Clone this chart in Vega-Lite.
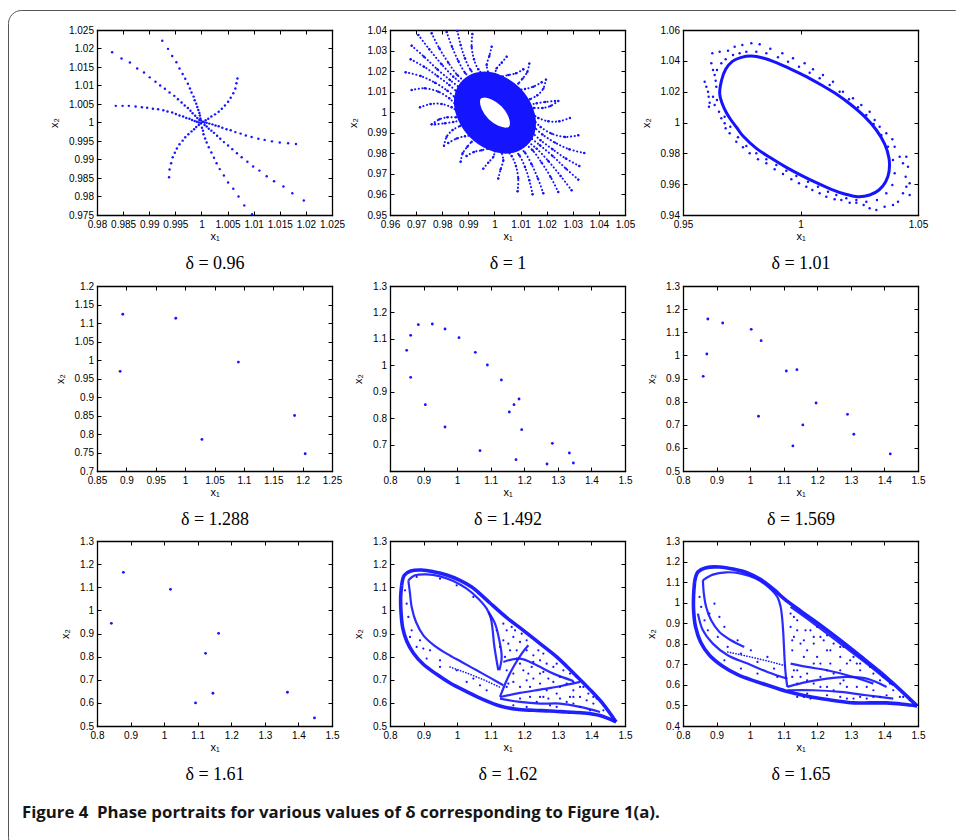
{
"$schema": "https://vega.github.io/schema/vega-lite/v6.json",
"width": 960, "height": 840,
"autosize": {"type": "none"},
"padding": {"left": 8, "top": 10, "right": -12, "bottom": -10},
"background": "white",
"title": {"text": "Figure 4\u00a0 Phase portraits for various values of δ corresponding to Figure 1(a).", "orient": "bottom", "anchor": "start", "frame": "group", "offset": -32, "dx": 14, "font": "Open Sans", "fontSize": 16.8, "fontWeight": "bold", "color": "#151515", "baseline": "alphabetic"},
"config": {
  "view": {"stroke": "#555555", "strokeWidth": 1, "cornerRadius": 13},
  "axis": {"grid": false, "domainColor": "#000000", "domainWidth": 1.3, "domainCap": "square", "tickColor": "#000000", "tickWidth": 1, "tickSize": -4, "labelFont": "Liberation Sans", "labelFontSize": 10, "labelColor": "#000000", "labelPadding": 7.5, "labelFlush": false, "labelOverlap": false, "labelBound": false, "titleFont": "Liberation Sans", "titleFontSize": 11, "titleFontWeight": "normal", "titleColor": "#000000", "minExtent": 0},
  "axisX": {"titlePadding": 0.5, "labelPadding": 8.5},
  "axisY": {"titlePadding": 9, "minExtent": 0}
},
"datasets": {
"p096": [
{"x1":0.9829,"x2":1.0190},{"x1":0.9847,"x2":1.0173},{"x1":0.9863,"x2":1.0162},{"x1":0.9877,"x2":1.0146},{"x1":0.9890,"x2":1.0135},{"x1":0.9901,"x2":1.0122},{"x1":0.9912,"x2":1.0110},{"x1":0.9921,"x2":1.0100},{"x1":0.9930,"x2":1.0091},{"x1":0.9939,"x2":1.0081},{"x1":0.9948,"x2":1.0072},{"x1":0.9955,"x2":1.0063},{"x1":0.9962,"x2":1.0054},{"x1":0.9968,"x2":1.0046},{"x1":0.9974,"x2":1.0039},{"x1":0.9979,"x2":1.0032},{"x1":0.9983,"x2":1.0025},{"x1":0.9988,"x2":1.0018},{"x1":0.9992,"x2":1.0012},{"x1":0.9996,"x2":1.0007},
{"x1":0.9836,"x2":1.0045},{"x1":0.9849,"x2":1.0045},{"x1":0.9861,"x2":1.0045},{"x1":0.9874,"x2":1.0043},{"x1":0.9886,"x2":1.0041},{"x1":0.9896,"x2":1.0040},{"x1":0.9907,"x2":1.0037},{"x1":0.9917,"x2":1.0036},{"x1":0.9927,"x2":1.0033},{"x1":0.9935,"x2":1.0030},{"x1":0.9944,"x2":1.0027},{"x1":0.9951,"x2":1.0023},{"x1":0.9958,"x2":1.0019},{"x1":0.9965,"x2":1.0016},{"x1":0.9971,"x2":1.0012},{"x1":0.9977,"x2":1.0010},{"x1":0.9982,"x2":1.0007},{"x1":0.9987,"x2":1.0004},{"x1":0.9991,"x2":1.0002},{"x1":0.9995,"x2":1.0000},
{"x1":0.9925,"x2":1.0221},{"x1":0.9936,"x2":1.0199},{"x1":0.9944,"x2":1.0180},{"x1":0.9952,"x2":1.0163},{"x1":0.9958,"x2":1.0146},{"x1":0.9964,"x2":1.0131},{"x1":0.9969,"x2":1.0118},{"x1":0.9974,"x2":1.0105},{"x1":0.9978,"x2":1.0092},{"x1":0.9981,"x2":1.0081},{"x1":0.9985,"x2":1.0070},{"x1":0.9987,"x2":1.0060},{"x1":0.9990,"x2":1.0051},{"x1":0.9992,"x2":1.0042},{"x1":0.9994,"x2":1.0034},{"x1":0.9996,"x2":1.0026},{"x1":0.9997,"x2":1.0019},{"x1":0.9998,"x2":1.0011},{"x1":0.9999,"x2":1.0006},
{"x1":1.0069,"x2":1.0119},{"x1":1.0067,"x2":1.0106},{"x1":1.0065,"x2":1.0092},{"x1":1.0061,"x2":1.0079},{"x1":1.0056,"x2":1.0067},{"x1":1.0051,"x2":1.0056},{"x1":1.0045,"x2":1.0046},{"x1":1.0039,"x2":1.0037},{"x1":1.0033,"x2":1.0029},{"x1":1.0026,"x2":1.0022},{"x1":1.0019,"x2":1.0016},{"x1":1.0013,"x2":1.0010},{"x1":1.0008,"x2":1.0006},{"x1":1.0003,"x2":1.0002},
{"x1":1.0181,"x2":0.9942},{"x1":1.0166,"x2":0.9944},{"x1":1.0150,"x2":0.9946},{"x1":1.0135,"x2":0.9949},{"x1":1.0121,"x2":0.9953},{"x1":1.0109,"x2":0.9956},{"x1":1.0096,"x2":0.9961},{"x1":1.0085,"x2":0.9965},{"x1":1.0075,"x2":0.9970},{"x1":1.0065,"x2":0.9974},{"x1":1.0056,"x2":0.9979},{"x1":1.0048,"x2":0.9982},{"x1":1.0040,"x2":0.9986},{"x1":1.0033,"x2":0.9990},{"x1":1.0027,"x2":0.9992},{"x1":1.0021,"x2":0.9995},{"x1":1.0015,"x2":0.9997},{"x1":1.0010,"x2":0.9999},{"x1":1.0006,"x2":1.0000},
{"x1":1.0196,"x2":0.9789},{"x1":1.0174,"x2":0.9809},{"x1":1.0157,"x2":0.9827},{"x1":1.0139,"x2":0.9841},{"x1":1.0125,"x2":0.9855},{"x1":1.0111,"x2":0.9870},{"x1":1.0099,"x2":0.9881},{"x1":1.0088,"x2":0.9894},{"x1":1.0077,"x2":0.9906},{"x1":1.0068,"x2":0.9917},{"x1":1.0059,"x2":0.9928},{"x1":1.0051,"x2":0.9938},{"x1":1.0043,"x2":0.9947},{"x1":1.0036,"x2":0.9956},{"x1":1.0030,"x2":0.9964},{"x1":1.0024,"x2":0.9972},{"x1":1.0019,"x2":0.9978},{"x1":1.0014,"x2":0.9983},{"x1":1.0010,"x2":0.9989},{"x1":1.0006,"x2":0.9993},
{"x1":1.0097,"x2":0.9752},{"x1":1.0082,"x2":0.9776},{"x1":1.0071,"x2":0.9800},{"x1":1.0061,"x2":0.9821},{"x1":1.0051,"x2":0.9838},{"x1":1.0043,"x2":0.9857},{"x1":1.0035,"x2":0.9874},{"x1":1.0029,"x2":0.9890},{"x1":1.0024,"x2":0.9905},{"x1":1.0019,"x2":0.9919},{"x1":1.0014,"x2":0.9933},{"x1":1.0010,"x2":0.9946},{"x1":1.0007,"x2":0.9957},{"x1":1.0004,"x2":0.9968},{"x1":1.0003,"x2":0.9978},{"x1":1.0001,"x2":0.9986},
{"x1":0.9938,"x2":0.9852},{"x1":0.9939,"x2":0.9873},{"x1":0.9942,"x2":0.9890},{"x1":0.9945,"x2":0.9906},{"x1":0.9949,"x2":0.9918},{"x1":0.9953,"x2":0.9930},{"x1":0.9958,"x2":0.9941},{"x1":0.9964,"x2":0.9951},{"x1":0.9969,"x2":0.9960},{"x1":0.9975,"x2":0.9968},{"x1":0.9981,"x2":0.9976},{"x1":0.9986,"x2":0.9982},{"x1":0.9990,"x2":0.9988},{"x1":0.9995,"x2":0.9993},{"x1":0.9999,"x2":0.9997},
{"x1":1.0000,"x2":1.0000}
],
"arms100": [
{"arm":"U1","x1":0.97085,"x2":1.03757},{"arm":"U1","x1":0.97506,"x2":1.03060},{"arm":"U1","x1":0.97979,"x2":1.02330},{"arm":"U1","x1":0.98426,"x2":1.01730},{"arm":"U1","x1":0.98745,"x2":1.01406},
{"arm":"U2","x1":0.97596,"x2":1.03838},{"arm":"U2","x1":0.97889,"x2":1.03108},{"arm":"U2","x1":0.98234,"x2":1.02411},{"arm":"U2","x1":0.98579,"x2":1.01811},{"arm":"U2","x1":0.98872,"x2":1.01487},
{"arm":"U3","x1":0.98170,"x2":1.03903},{"arm":"U3","x1":0.98374,"x2":1.03189},{"arm":"U3","x1":0.98617,"x2":1.02492},{"arm":"U3","x1":0.98872,"x2":1.01924},{"arm":"U3","x1":0.99128,"x2":1.01600},
{"arm":"U4","x1":0.98579,"x2":1.03951},{"arm":"U4","x1":0.98706,"x2":1.03270},{"arm":"U4","x1":0.98872,"x2":1.02622},{"arm":"U4","x1":0.99089,"x2":1.02054},{"arm":"U4","x1":0.99319,"x2":1.01730},
{"arm":"U5","x1":0.99153,"x2":1.03805},{"arm":"U5","x1":0.99128,"x2":1.03189},{"arm":"U5","x1":0.99217,"x2":1.02573},{"arm":"U5","x1":0.99383,"x2":1.02087},{"arm":"U5","x1":0.99574,"x2":1.01811},
{"arm":"U6","x1":0.99894,"x2":1.03189},{"arm":"U6","x1":0.99804,"x2":1.02735},{"arm":"U6","x1":0.99702,"x2":1.02297},{"arm":"U6","x1":0.99766,"x2":1.01924},
{"arm":"U7","x1":1.00468,"x2":1.02703},{"arm":"U7","x1":1.00277,"x2":1.02411},{"arm":"U7","x1":1.00085,"x2":1.02135},{"arm":"U7","x1":1.00021,"x2":1.01860},
{"arm":"U8","x1":1.01106,"x2":1.02087},{"arm":"U8","x1":1.00826,"x2":1.01892},{"arm":"U8","x1":1.00532,"x2":1.01811},{"arm":"U8","x1":1.00277,"x2":1.01730},
{"arm":"U9","x1":1.01809,"x2":1.01454},{"arm":"U9","x1":1.01489,"x2":1.01243},{"arm":"U9","x1":1.01170,"x2":1.01130},{"arm":"U9","x1":1.00851,"x2":1.01081},
{"arm":"U10","x1":1.02319,"x2":1.00546},{"arm":"U10","x1":1.01936,"x2":1.00498},{"arm":"U10","x1":1.01617,"x2":1.00433},{"arm":"U10","x1":1.01298,"x2":1.00352},
{"arm":"L1","x1":0.96830,"x2":1.03238},{"arm":"L1","x1":0.97302,"x2":1.02703},{"arm":"L1","x1":0.97813,"x2":1.02087},{"arm":"L1","x1":0.98298,"x2":1.01568},{"arm":"L1","x1":0.98617,"x2":1.01243},
{"arm":"L2","x1":0.96791,"x2":1.02573},{"arm":"L2","x1":0.97302,"x2":1.02216},{"arm":"L2","x1":0.97813,"x2":1.01762},{"arm":"L2","x1":0.98272,"x2":1.01325},{"arm":"L2","x1":0.98553,"x2":1.01000},
{"arm":"L3","x1":0.96600,"x2":1.01941},{"arm":"L3","x1":0.97174,"x2":1.01762},{"arm":"L3","x1":0.97723,"x2":1.01438},{"arm":"L3","x1":0.98196,"x2":1.01049},{"arm":"L3","x1":0.98489,"x2":1.00725},
{"arm":"L4","x1":0.96830,"x2":1.01081},{"arm":"L4","x1":0.97340,"x2":1.01162},{"arm":"L4","x1":0.97851,"x2":1.01000},{"arm":"L4","x1":0.98272,"x2":1.00676},{"arm":"L4","x1":0.98489,"x2":1.00400},
{"arm":"L5","x1":0.97149,"x2":1.00238},{"arm":"L5","x1":0.97557,"x2":1.00400},{"arm":"L5","x1":0.97979,"x2":1.00400},{"arm":"L5","x1":0.98362,"x2":1.00238},{"arm":"L5","x1":0.98553,"x2":1.00076},
{"arm":"L6","x1":0.97596,"x2":0.99411},{"arm":"L6","x1":0.97889,"x2":0.99654},{"arm":"L6","x1":0.98196,"x2":0.99752},{"arm":"L6","x1":0.98528,"x2":0.99752},
{"arm":"L7","x1":0.98068,"x2":0.98373},{"arm":"L7","x1":0.98170,"x2":0.98811},{"arm":"L7","x1":0.98400,"x2":0.99135},{"arm":"L7","x1":0.98681,"x2":0.99330},
{"arm":"L8","x1":0.98706,"x2":0.97595},{"arm":"L8","x1":0.98783,"x2":0.98000},{"arm":"L8","x1":0.98962,"x2":0.98325},{"arm":"L8","x1":0.99128,"x2":0.98568},
{"arm":"U1m","x1":1.02955,"x2":0.96203},{"arm":"U1m","x1":1.02534,"x2":0.96900},{"arm":"U1m","x1":1.02061,"x2":0.97630},{"arm":"U1m","x1":1.01614,"x2":0.98230},{"arm":"U1m","x1":1.01295,"x2":0.98554},
{"arm":"U2m","x1":1.02444,"x2":0.96122},{"arm":"U2m","x1":1.02151,"x2":0.96852},{"arm":"U2m","x1":1.01806,"x2":0.97549},{"arm":"U2m","x1":1.01461,"x2":0.98149},{"arm":"U2m","x1":1.01168,"x2":0.98473},
{"arm":"U3m","x1":1.01870,"x2":0.96057},{"arm":"U3m","x1":1.01666,"x2":0.96771},{"arm":"U3m","x1":1.01423,"x2":0.97468},{"arm":"U3m","x1":1.01168,"x2":0.98036},{"arm":"U3m","x1":1.00912,"x2":0.98360},
{"arm":"U4m","x1":1.01461,"x2":0.96009},{"arm":"U4m","x1":1.01334,"x2":0.96690},{"arm":"U4m","x1":1.01168,"x2":0.97338},{"arm":"U4m","x1":1.00951,"x2":0.97906},{"arm":"U4m","x1":1.00721,"x2":0.98230},
{"arm":"U5m","x1":1.00887,"x2":0.96155},{"arm":"U5m","x1":1.00912,"x2":0.96771},{"arm":"U5m","x1":1.00823,"x2":0.97387},{"arm":"U5m","x1":1.00657,"x2":0.97873},{"arm":"U5m","x1":1.00466,"x2":0.98149},
{"arm":"U6m","x1":1.00146,"x2":0.96771},{"arm":"U6m","x1":1.00236,"x2":0.97225},{"arm":"U6m","x1":1.00338,"x2":0.97663},{"arm":"U6m","x1":1.00274,"x2":0.98036},
{"arm":"U7m","x1":0.99572,"x2":0.97257},{"arm":"U7m","x1":0.99763,"x2":0.97549},{"arm":"U7m","x1":0.99955,"x2":0.97825},{"arm":"U7m","x1":1.00019,"x2":0.98100},
{"arm":"U8m","x1":0.98934,"x2":0.97873},{"arm":"U8m","x1":0.99214,"x2":0.98068},{"arm":"U8m","x1":0.99508,"x2":0.98149},{"arm":"U8m","x1":0.99763,"x2":0.98230},
{"arm":"U9m","x1":0.98231,"x2":0.98506},{"arm":"U9m","x1":0.98551,"x2":0.98717},{"arm":"U9m","x1":0.98870,"x2":0.98830},{"arm":"U9m","x1":0.99189,"x2":0.98879},
{"arm":"U10m","x1":0.97721,"x2":0.99414},{"arm":"U10m","x1":0.98104,"x2":0.99462},{"arm":"U10m","x1":0.98423,"x2":0.99527},{"arm":"U10m","x1":0.98742,"x2":0.99608},
{"arm":"L1m","x1":1.03210,"x2":0.96722},{"arm":"L1m","x1":1.02738,"x2":0.97257},{"arm":"L1m","x1":1.02227,"x2":0.97873},{"arm":"L1m","x1":1.01742,"x2":0.98392},{"arm":"L1m","x1":1.01423,"x2":0.98717},
{"arm":"L2m","x1":1.03249,"x2":0.97387},{"arm":"L2m","x1":1.02738,"x2":0.97744},{"arm":"L2m","x1":1.02227,"x2":0.98198},{"arm":"L2m","x1":1.01768,"x2":0.98635},{"arm":"L2m","x1":1.01487,"x2":0.98960},
{"arm":"L3m","x1":1.03440,"x2":0.98019},{"arm":"L3m","x1":1.02866,"x2":0.98198},{"arm":"L3m","x1":1.02317,"x2":0.98522},{"arm":"L3m","x1":1.01844,"x2":0.98911},{"arm":"L3m","x1":1.01551,"x2":0.99235},
{"arm":"L4m","x1":1.03210,"x2":0.98879},{"arm":"L4m","x1":1.02700,"x2":0.98798},{"arm":"L4m","x1":1.02189,"x2":0.98960},{"arm":"L4m","x1":1.01768,"x2":0.99284},{"arm":"L4m","x1":1.01551,"x2":0.99560},
{"arm":"L5m","x1":1.02891,"x2":0.99722},{"arm":"L5m","x1":1.02483,"x2":0.99560},{"arm":"L5m","x1":1.02061,"x2":0.99560},{"arm":"L5m","x1":1.01678,"x2":0.99722},{"arm":"L5m","x1":1.01487,"x2":0.99884},
{"arm":"L6m","x1":1.02444,"x2":1.00549},{"arm":"L6m","x1":1.02151,"x2":1.00306},{"arm":"L6m","x1":1.01844,"x2":1.00208},{"arm":"L6m","x1":1.01512,"x2":1.00208},
{"arm":"L7m","x1":1.01972,"x2":1.01587},{"arm":"L7m","x1":1.01870,"x2":1.01149},{"arm":"L7m","x1":1.01640,"x2":1.00825},{"arm":"L7m","x1":1.01359,"x2":1.00630},
{"arm":"L8m","x1":1.01334,"x2":1.02365},{"arm":"L8m","x1":1.01257,"x2":1.01960},{"arm":"L8m","x1":1.01078,"x2":1.01635},{"arm":"L8m","x1":1.00912,"x2":1.01392}
],
"core100": [
{"x1":1.0091,"x2":0.9885},{"x1":1.0109,"x2":0.9938},{"x1":1.0098,"x2":1.0007},{"x1":1.0062,"x2":1.0074},{"x1":1.0009,"x2":1.0120},{"x1":0.9955,"x2":1.0134},{"x1":0.9913,"x2":1.0111},{"x1":0.9895,"x2":1.0058},{"x1":0.9906,"x2":0.9989},{"x1":0.9942,"x2":0.9922},{"x1":0.9995,"x2":0.9876},{"x1":1.0049,"x2":0.9862}
],
"cycle101": [
{"x1":0.96560,"x2":1.01892},{"x1":0.96645,"x2":1.02757},{"x1":0.96816,"x2":1.03449},{"x1":0.97099,"x2":1.03968},{"x1":0.97482,"x2":1.04227},{"x1":0.97908,"x2":1.04314},{"x1":0.98404,"x2":1.04184},{"x1":0.98972,"x2":1.03881},{"x1":0.99610,"x2":1.03449},{"x1":1.00248,"x2":1.02973},{"x1":1.00887,"x2":1.02432},{"x1":1.01525,"x2":1.01849},{"x1":1.02163,"x2":1.01135},{"x1":1.02730,"x2":1.00378},{"x1":1.03227,"x2":0.99514},{"x1":1.03582,"x2":0.98605},{"x1":1.03766,"x2":0.97676},{"x1":1.03766,"x2":0.96811},{"x1":1.03624,"x2":0.96162},{"x1":1.03340,"x2":0.95622},{"x1":1.02943,"x2":0.95297},{"x1":1.02447,"x2":0.95189},{"x1":1.01879,"x2":0.95362},{"x1":1.01312,"x2":0.95665},{"x1":1.00674,"x2":0.96097},{"x1":1.00035,"x2":0.96573},{"x1":0.99397,"x2":0.97092},{"x1":0.98759,"x2":0.97676},{"x1":0.98121,"x2":0.98324},{"x1":0.97553,"x2":0.99125},{"x1":0.97298,"x2":0.99643},{"x1":0.97043,"x2":1.00162},{"x1":0.96830,"x2":1.00681},{"x1":0.96660,"x2":1.01265}
],
"halo101": [
{"x1":0.95922,"x2":1.02649},{"x1":0.95993,"x2":1.02324},{"x1":0.96064,"x2":1.02000},{"x1":0.96092,"x2":1.01676},{"x1":0.96135,"x2":1.01286},{"x1":0.96106,"x2":1.01027},{"x1":0.96206,"x2":1.03838},{"x1":0.96277,"x2":1.03405},{"x1":0.96347,"x2":1.03081},{"x1":0.96390,"x2":1.02713},{"x1":0.96447,"x2":1.01459},{"x1":0.96532,"x2":1.00703},{"x1":0.96631,"x2":1.00270},{"x1":0.96773,"x2":0.99946},{"x1":0.96248,"x2":1.04486},{"x1":0.96560,"x2":1.04595},{"x1":0.96915,"x2":1.04659},{"x1":0.97199,"x2":1.04919},{"x1":0.97525,"x2":1.05027},{"x1":0.97908,"x2":1.05135},{"x1":0.98262,"x2":1.05070},{"x1":0.98716,"x2":1.04789},{"x1":0.99227,"x2":1.04486},{"x1":0.99681,"x2":1.04162},{"x1":1.00177,"x2":1.03838},{"x1":1.00532,"x2":1.03449},{"x1":1.00957,"x2":1.03081},{"x1":1.01383,"x2":1.02649},{"x1":1.01808,"x2":1.02000},{"x1":1.02234,"x2":1.01567},{"x1":1.02588,"x2":1.01135},{"x1":1.02943,"x2":1.00703},{"x1":1.03156,"x2":1.00162},{"x1":1.03369,"x2":0.99730},{"x1":1.03652,"x2":0.99297},{"x1":1.03908,"x2":0.98908},{"x1":1.04007,"x2":0.98432},{"x1":1.04220,"x2":0.97784},{"x1":1.04361,"x2":0.97351},{"x1":1.04503,"x2":0.97784},{"x1":1.04574,"x2":0.97135},{"x1":1.04475,"x2":0.96486},{"x1":1.04645,"x2":0.96054},{"x1":1.04503,"x2":0.95838},{"x1":1.04361,"x2":0.95405},{"x1":1.04645,"x2":0.95297},{"x1":1.04149,"x2":0.94865},{"x1":1.03936,"x2":0.94649},{"x1":1.03581,"x2":0.94541},{"x1":1.03227,"x2":0.94324},{"x1":1.02943,"x2":0.94432},{"x1":1.02688,"x2":0.94649},{"x1":1.02376,"x2":0.94800},{"x1":1.02092,"x2":0.94800},{"x1":1.01737,"x2":0.94973},{"x1":1.01454,"x2":0.95016},{"x1":1.01099,"x2":0.95189},{"x1":1.00815,"x2":0.95405},{"x1":1.00503,"x2":0.95622},{"x1":1.00248,"x2":0.95838},{"x1":0.99936,"x2":0.96054},{"x1":0.99610,"x2":0.96313},{"x1":0.99255,"x2":0.96659},{"x1":0.98901,"x2":0.96962},{"x1":0.98546,"x2":0.97351},{"x1":0.98191,"x2":0.97611},{"x1":0.97837,"x2":0.98000},{"x1":0.97553,"x2":0.98389},{"x1":0.97269,"x2":0.98757},{"x1":0.96986,"x2":0.99297},{"x1":0.96816,"x2":0.99622},
{"x1":0.96418,"x2":1.02324},{"x1":0.96447,"x2":1.03405},{"x1":0.96631,"x2":1.03838},{"x1":0.96816,"x2":1.04097},{"x1":0.97128,"x2":1.04378},{"x1":0.97411,"x2":1.04486},{"x1":0.97695,"x2":1.04595},{"x1":0.98120,"x2":1.04595},{"x1":0.98546,"x2":1.04486},{"x1":0.99042,"x2":1.04227},{"x1":0.99468,"x2":1.03946},{"x1":0.99936,"x2":1.03622},{"x1":1.00390,"x2":1.03232},{"x1":1.00815,"x2":1.02865},{"x1":1.01241,"x2":1.02432},{"x1":1.01666,"x2":1.02000},{"x1":1.02064,"x2":1.01503},{"x1":1.02447,"x2":1.00984},{"x1":1.02801,"x2":1.00486},{"x1":1.03113,"x2":0.99903},{"x1":1.03439,"x2":0.99189},{"x1":1.03723,"x2":0.98432},{"x1":1.03936,"x2":0.97567},{"x1":1.04007,"x2":0.96703},{"x1":1.03908,"x2":0.95946},{"x1":1.03652,"x2":0.95405},{"x1":1.03255,"x2":0.94973},{"x1":1.02801,"x2":0.94865},{"x1":1.02376,"x2":0.94973},{"x1":1.01950,"x2":0.95081},{"x1":1.01525,"x2":0.95297},{"x1":1.01170,"x2":0.95513},{"x1":1.00745,"x2":0.95838},{"x1":1.00319,"x2":0.96162},{"x1":0.99823,"x2":0.96530},{"x1":0.99397,"x2":0.96876},{"x1":0.98972,"x2":0.97243},{"x1":0.98546,"x2":0.97611},{"x1":0.98121,"x2":0.98000},{"x1":0.97695,"x2":0.98476},{"x1":0.97340,"x2":0.99038},{"x1":0.97014,"x2":0.99730},{"x1":0.96773,"x2":1.00378},{"x1":0.96347,"x2":1.01135},{"x1":0.96277,"x2":1.01676}
],
"p1288": [
{"x1":0.8939,"x2":1.1237},{"x1":0.9841,"x2":1.1129},{"x1":0.8894,"x2":0.9693},{"x1":1.0906,"x2":0.9944},{"x1":1.0286,"x2":0.7853},{"x1":1.1863,"x2":0.8499},{"x1":1.2044,"x2":0.7467}
],
"p1492": [
{"x1":0.8497,"x2":1.0566},{"x1":0.8616,"x2":1.1134},{"x1":0.8844,"x2":1.1537},{"x1":0.9261,"x2":1.1562},{"x1":0.9639,"x2":1.1373},{"x1":1.0056,"x2":1.1045},{"x1":1.0542,"x2":1.0491},{"x1":1.0900,"x2":1.0011},{"x1":1.1317,"x2":0.9444},{"x1":0.8616,"x2":0.9545},{"x1":0.9053,"x2":0.8511},{"x1":0.9639,"x2":0.7666},{"x1":1.0681,"x2":0.6770},{"x1":1.1754,"x2":0.6430},{"x1":1.1555,"x2":0.8233},{"x1":1.1694,"x2":0.8511},{"x1":1.1843,"x2":0.8725},{"x1":1.1923,"x2":0.7565},{"x1":1.2836,"x2":0.7048},{"x1":1.3343,"x2":0.6682},{"x1":1.3462,"x2":0.6304},{"x1":1.2677,"x2":0.6266}
],
"p1569": [
{"x1":0.8740,"x2":1.1573},{"x1":0.9183,"x2":1.1401},{"x1":1.0032,"x2":1.1127},{"x1":1.0327,"x2":1.0637},{"x1":0.8710,"x2":1.0061},{"x1":0.8602,"x2":0.9095},{"x1":1.1077,"x2":0.9326},{"x1":1.1393,"x2":0.9383},{"x1":1.1964,"x2":0.7942},{"x1":1.0249,"x2":0.7366},{"x1":1.1570,"x2":0.6991},{"x1":1.1274,"x2":0.6084},{"x1":1.2901,"x2":0.7452},{"x1":1.3089,"x2":0.6588},{"x1":1.4174,"x2":0.5738}
],
"p161": [
{"x1":0.8786,"x2":1.1646},{"x1":1.0189,"x2":1.0911},{"x1":0.8428,"x2":0.9441},{"x1":1.1622,"x2":0.9009},{"x1":1.1234,"x2":0.8144},{"x1":1.1453,"x2":0.6415},{"x1":1.0935,"x2":0.5997},{"x1":1.3672,"x2":0.6458},{"x1":1.4478,"x2":0.5349}
],
"loop162": [
{"part":"upper","x1":0.8348,"x2":1.1084},{"part":"upper","x1":0.8427,"x2":1.1516},{"part":"upper","x1":0.8616,"x2":1.1703},{"part":"upper","x1":0.8943,"x2":1.1746},{"part":"upper","x1":0.9291,"x2":1.1674},{"part":"upper","x1":0.9688,"x2":1.1530},{"part":"upper","x1":1.0085,"x2":1.1300},{"part":"upper","x1":1.0433,"x2":1.1012},{"part":"upper","x1":1.0731,"x2":1.0651},{"part":"upper","x1":1.0979,"x2":1.0320},{"part":"upper","x1":1.1476,"x2":0.9686},{"part":"upper","x1":1.1972,"x2":0.9138},{"part":"upper","x1":1.2469,"x2":0.8562},{"part":"upper","x1":1.2965,"x2":0.7986},{"part":"upper","x1":1.3462,"x2":0.7294},{"part":"upper","x1":1.3958,"x2":0.6573},{"part":"upper","x1":1.4356,"x2":0.5939},{"part":"upper","x1":1.4733,"x2":0.5176},
{"part":"lower","x1":1.4733,"x2":0.5176},{"part":"lower","x1":1.4256,"x2":0.5450},{"part":"lower","x1":1.3760,"x2":0.5565},{"part":"lower","x1":1.3263,"x2":0.5608},{"part":"lower","x1":1.2767,"x2":0.5651},{"part":"lower","x1":1.2270,"x2":0.5680},{"part":"lower","x1":1.1774,"x2":0.5723},{"part":"lower","x1":1.1277,"x2":0.5867},{"part":"lower","x1":1.0781,"x2":0.6141},{"part":"lower","x1":1.0284,"x2":0.6487},{"part":"lower","x1":0.9787,"x2":0.6862},{"part":"lower","x1":0.9390,"x2":0.7236},{"part":"lower","x1":0.8993,"x2":0.7669},{"part":"lower","x1":0.8695,"x2":0.8159},{"part":"lower","x1":0.8497,"x2":0.8677},{"part":"lower","x1":0.8377,"x2":0.9254},{"part":"lower","x1":0.8328,"x2":0.9931},{"part":"lower","x1":0.8318,"x2":1.0579},{"part":"lower","x1":0.8348,"x2":1.1084}
],
"bands162": [
{"part":"spineA","x1":0.8546,"x2":1.1300},{"part":"spineA","x1":0.8745,"x2":1.1516},{"part":"spineA","x1":0.9092,"x2":1.1559},{"part":"spineA","x1":0.9490,"x2":1.1473},{"part":"spineA","x1":0.9887,"x2":1.1271},{"part":"spineA","x1":1.0284,"x2":1.0939},{"part":"spineA","x1":1.0632,"x2":1.0507},{"part":"spineA","x1":1.0880,"x2":1.0075},{"part":"spineA","x1":1.0999,"x2":0.9686},{"part":"spineA","x1":1.1059,"x2":0.9138},{"part":"spineA","x1":1.1098,"x2":0.8562},{"part":"spineA","x1":1.1158,"x2":0.7986},{"part":"spineA","x1":1.1227,"x2":0.7409},
{"part":"spineB","x1":1.0929,"x2":0.9931},{"part":"spineB","x1":1.1128,"x2":0.9427},{"part":"spineB","x1":1.1257,"x2":0.8706},{"part":"spineB","x1":1.1327,"x2":0.7986},{"part":"spineB","x1":1.1257,"x2":0.7409},
{"part":"inner","x1":0.8546,"x2":1.1300},{"part":"inner","x1":0.8596,"x2":1.0723},{"part":"inner","x1":0.8645,"x2":1.0147},{"part":"inner","x1":0.8775,"x2":0.9499},{"part":"inner","x1":0.8993,"x2":0.8922},{"part":"inner","x1":0.9311,"x2":0.8490},{"part":"inner","x1":0.9688,"x2":0.8130},{"part":"inner","x1":1.0135,"x2":0.7769},{"part":"inner","x1":1.0582,"x2":0.7409},{"part":"inner","x1":1.1029,"x2":0.7049},{"part":"inner","x1":1.1376,"x2":0.6761},
{"part":"e1","x1":1.1277,"x2":0.6256},{"part":"e1","x1":1.1476,"x2":0.6977},{"part":"e1","x1":1.1674,"x2":0.7553},{"part":"e1","x1":1.1923,"x2":0.8130},{"part":"e1","x1":1.2121,"x2":0.8490},
{"part":"e2","x1":1.1277,"x2":0.6256},{"part":"e2","x1":1.1873,"x2":0.6429},{"part":"e2","x1":1.2469,"x2":0.6573},{"part":"e2","x1":1.3064,"x2":0.6718},{"part":"e2","x1":1.3660,"x2":0.6905},
{"part":"e3","x1":1.1277,"x2":0.6184},{"part":"e3","x1":1.1873,"x2":0.6040},{"part":"e3","x1":1.2469,"x2":0.5968},{"part":"e3","x1":1.3064,"x2":0.5968},{"part":"e3","x1":1.3660,"x2":0.5824},{"part":"e3","x1":1.4256,"x2":0.5608},
{"part":"e4","x1":1.1376,"x2":0.7769},{"part":"e4","x1":1.1873,"x2":0.7914},{"part":"e4","x1":1.2370,"x2":0.7625},{"part":"e4","x1":1.2866,"x2":0.7265},{"part":"e4","x1":1.3462,"x2":0.6948}
],
"thin162": [
{"x1":0.9787,"x2":0.7553},{"x1":1.0284,"x2":0.7294},{"x1":1.0781,"x2":0.7006},{"x1":1.1257,"x2":0.6689}
],
"scat162": [
{"x1":1.1476,"x2":0.9138},{"x1":1.1674,"x2":0.8850},{"x1":1.1873,"x2":0.8634},{"x1":1.1525,"x2":0.8562},{"x1":1.1774,"x2":0.8274},{"x1":1.2071,"x2":0.8274},{"x1":1.2270,"x2":0.8058},{"x1":1.2469,"x2":0.7841},{"x1":1.2667,"x2":0.7697},{"x1":1.2220,"x2":0.7553},{"x1":1.1972,"x2":0.7409},{"x1":1.2469,"x2":0.7265},{"x1":1.2717,"x2":0.7049},{"x1":1.3064,"x2":0.7121},{"x1":1.3263,"x2":0.6833},{"x1":1.2965,"x2":0.6401},{"x1":1.2568,"x2":0.6256},{"x1":1.2171,"x2":0.6256},{"x1":1.1873,"x2":0.6689},{"x1":1.1674,"x2":0.6905},{"x1":1.2469,"x2":0.6833},{"x1":1.3462,"x2":0.6545},{"x1":1.3660,"x2":0.6256},{"x1":1.3859,"x2":0.6112},{"x1":1.3362,"x2":0.6256},{"x1":1.3064,"x2":0.6184},{"x1":1.2767,"x2":0.5896},{"x1":1.2071,"x2":0.5824},{"x1":1.1674,"x2":0.5896},{"x1":1.2469,"x2":0.5680},{"x1":1.2965,"x2":0.5824},{"x1":1.3462,"x2":0.5968},{"x1":1.4058,"x2":0.5968},{"x1":1.3660,"x2":0.6689},{"x1":1.4058,"x2":0.6256},{"x1":1.1476,"x2":0.7409},{"x1":1.1525,"x2":0.6833},{"x1":1.1426,"x2":0.7986},{"x1":1.1178,"x2":0.9138},{"x1":1.1277,"x2":0.8418},{"x1":1.1376,"x2":0.8706},{"x1":1.1625,"x2":0.9282},{"x1":1.1923,"x2":0.8994},{"x1":1.2419,"x2":0.8274},{"x1":1.2866,"x2":0.7553},{"x1":1.3164,"x2":0.7409},{"x1":1.3561,"x2":0.7121},{"x1":1.2270,"x2":0.7049},{"x1":1.1873,"x2":0.7697},{"x1":1.2121,"x2":0.7265},
{"x1":1.1376,"x2":0.9427},{"x1":1.1724,"x2":0.9138},{"x1":1.2071,"x2":0.8706},{"x1":1.2568,"x2":0.8130},{"x1":1.2965,"x2":0.7697},{"x1":1.3362,"x2":0.7265},{"x1":1.3760,"x2":0.6689},{"x1":1.4157,"x2":0.6184},{"x1":1.4356,"x2":0.5680},{"x1":1.3462,"x2":0.6256},{"x1":1.2667,"x2":0.6545},{"x1":1.2071,"x2":0.6977},{"x1":1.1674,"x2":0.7265},{"x1":1.1476,"x2":0.6689},{"x1":1.1873,"x2":0.6184},{"x1":1.2370,"x2":0.6040},{"x1":1.3263,"x2":0.6040},{"x1":1.3660,"x2":0.5824},{"x1":1.3958,"x2":0.5680},{"x1":1.2866,"x2":0.6905},{"x1":1.2568,"x2":0.7337},{"x1":1.2270,"x2":0.7769},{"x1":1.1774,"x2":0.7914},{"x1":1.1575,"x2":0.8274},{"x1":1.3064,"x2":0.6689},{"x1":1.3462,"x2":0.6905},{"x1":1.3909,"x2":0.6401},{"x1":1.2469,"x2":0.6256},{"x1":1.2171,"x2":0.6689},{"x1":1.2717,"x2":0.6184},
{"x1":0.8447,"x2":1.0867},{"x1":0.8497,"x2":1.0291},{"x1":0.8546,"x2":0.9715},{"x1":0.8645,"x2":0.9138},{"x1":0.8894,"x2":0.8706},{"x1":0.9192,"x2":0.8274},{"x1":0.9490,"x2":0.7841},{"x1":0.9986,"x2":0.7409},{"x1":1.0483,"x2":0.7049},{"x1":0.9490,"x2":0.7553},{"x1":0.9092,"x2":0.7914},{"x1":0.8794,"x2":0.8418},{"x1":0.8596,"x2":0.8850},{"x1":0.8993,"x2":0.8346},{"x1":1.0681,"x2":0.6761},{"x1":1.0284,"x2":0.6905},{"x1":1.0880,"x2":0.6545},{"x1":0.8794,"x2":1.1444},{"x1":0.9490,"x2":1.1372},{"x1":0.9986,"x2":1.1084},{"x1":1.0483,"x2":1.0579}
],
"loop165": [
{"part":"upper","x1":0.8345,"x2":1.1006},{"part":"upper","x1":0.8444,"x2":1.1493},{"part":"upper","x1":0.8690,"x2":1.1703},{"part":"upper","x1":0.9085,"x2":1.1736},{"part":"upper","x1":0.9529,"x2":1.1622},{"part":"upper","x1":0.9923,"x2":1.1444},{"part":"upper","x1":1.0318,"x2":1.1120},{"part":"upper","x1":1.0712,"x2":1.0634},{"part":"upper","x1":1.1008,"x2":1.0196},{"part":"upper","x1":1.1501,"x2":0.9596},{"part":"upper","x1":1.2093,"x2":0.8900},{"part":"upper","x1":1.2684,"x2":0.8170},{"part":"upper","x1":1.3276,"x2":0.7408},{"part":"upper","x1":1.3868,"x2":0.6630},{"part":"upper","x1":1.4460,"x2":0.5771},{"part":"upper","x1":1.4972,"x2":0.4977},
{"part":"lower","x1":1.4972,"x2":0.4977},{"part":"lower","x1":1.4558,"x2":0.5058},{"part":"lower","x1":1.4065,"x2":0.5123},{"part":"lower","x1":1.3572,"x2":0.5123},{"part":"lower","x1":1.3079,"x2":0.5123},{"part":"lower","x1":1.2586,"x2":0.5220},{"part":"lower","x1":1.2093,"x2":0.5334},{"part":"lower","x1":1.1600,"x2":0.5480},{"part":"lower","x1":1.1107,"x2":0.5674},{"part":"lower","x1":1.0613,"x2":0.5933},{"part":"lower","x1":1.0120,"x2":0.6193},{"part":"lower","x1":0.9627,"x2":0.6501},{"part":"lower","x1":0.9183,"x2":0.6906},{"part":"lower","x1":0.8789,"x2":0.7441},{"part":"lower","x1":0.8523,"x2":0.8089},{"part":"lower","x1":0.8375,"x2":0.8818},{"part":"lower","x1":0.8316,"x2":0.9629},{"part":"lower","x1":0.8316,"x2":1.0358},{"part":"lower","x1":0.8345,"x2":1.1006}
],
"bands165": [
{"part":"spine","x1":0.8592,"x2":1.1088},{"part":"spine","x1":0.8888,"x2":1.1363},{"part":"spine","x1":0.9282,"x2":1.1477},{"part":"spine","x1":0.9726,"x2":1.1412},{"part":"spine","x1":1.0170,"x2":1.1169},{"part":"spine","x1":1.0564,"x2":1.0731},{"part":"spine","x1":1.0811,"x2":1.0277},{"part":"spine","x1":1.0909,"x2":0.9791},{"part":"spine","x1":1.0959,"x2":0.9143},{"part":"spine","x1":1.0988,"x2":0.8494},{"part":"spine","x1":1.1008,"x2":0.7846},{"part":"spine","x1":1.1028,"x2":0.7198},{"part":"spine","x1":1.1057,"x2":0.6549},{"part":"spine","x1":1.1107,"x2":0.5901},
{"part":"inner","x1":0.8592,"x2":1.1088},{"part":"inner","x1":0.8621,"x2":1.0439},{"part":"inner","x1":0.8690,"x2":0.9791},{"part":"inner","x1":0.8838,"x2":0.9143},{"part":"inner","x1":0.9085,"x2":0.8575},{"part":"inner","x1":0.9430,"x2":0.8170},{"part":"inner","x1":0.9824,"x2":0.7846},
{"part":"low","x1":0.8444,"x2":0.9467},{"part":"low","x1":0.8592,"x2":0.8656},{"part":"low","x1":0.8888,"x2":0.8008},{"part":"low","x1":0.9331,"x2":0.7441},{"part":"low","x1":0.9923,"x2":0.7036},{"part":"low","x1":1.0515,"x2":0.6630},{"part":"low","x1":1.1107,"x2":0.6306},
{"part":"t1","x1":1.1107,"x2":0.5901},{"part":"t1","x1":1.1698,"x2":0.6144},{"part":"t1","x1":1.2290,"x2":0.6306},{"part":"t1","x1":1.2882,"x2":0.6387},{"part":"t1","x1":1.3473,"x2":0.6306},{"part":"t1","x1":1.4065,"x2":0.5901},
{"part":"t2","x1":1.1107,"x2":0.5739},{"part":"t2","x1":1.1895,"x2":0.5739},{"part":"t2","x1":1.2684,"x2":0.5658},{"part":"t2","x1":1.3473,"x2":0.5496},{"part":"t2","x1":1.4262,"x2":0.5334},
{"part":"t3","x1":1.1205,"x2":0.7036},{"part":"t3","x1":1.1698,"x2":0.6874},{"part":"t3","x1":1.2290,"x2":0.6711},{"part":"t3","x1":1.3079,"x2":0.6387},{"part":"t3","x1":1.3671,"x2":0.6063},
{"part":"edge","x1":1.1205,"x2":0.9791},{"part":"edge","x1":1.1895,"x2":0.8981},{"part":"edge","x1":1.2684,"x2":0.8008},{"part":"edge","x1":1.3473,"x2":0.7036},{"part":"edge","x1":1.4262,"x2":0.5982}
],
"thin165": [
{"x1":0.9331,"x2":0.7603},{"x1":0.9923,"x2":0.7392},{"x1":1.0515,"x2":0.7165},{"x1":1.1107,"x2":0.6906}
],
"scat165": [
{"x1":1.1304,"x2":0.9305},{"x1":1.1402,"x2":0.8656},{"x1":1.1501,"x2":0.8008},{"x1":1.1254,"x2":0.7684},{"x1":1.1600,"x2":0.7360},{"x1":1.1797,"x2":0.8656},{"x1":1.1895,"x2":0.8008},{"x1":1.2093,"x2":0.8332},{"x1":1.1994,"x2":0.7360},{"x1":1.2290,"x2":0.7684},{"x1":1.2487,"x2":0.8008},{"x1":1.2684,"x2":0.7360},{"x1":1.2389,"x2":0.7036},{"x1":1.2882,"x2":0.7036},{"x1":1.3079,"x2":0.7360},{"x1":1.3276,"x2":0.6711},{"x1":1.3572,"x2":0.6874},{"x1":1.3868,"x2":0.6225},{"x1":1.4164,"x2":0.6063},{"x1":1.3671,"x2":0.5739},{"x1":1.3178,"x2":0.5901},{"x1":1.2684,"x2":0.6063},{"x1":1.2290,"x2":0.5901},{"x1":1.1895,"x2":0.6063},{"x1":1.1501,"x2":0.6387},{"x1":1.1304,"x2":0.6711},{"x1":1.1698,"x2":0.6549},{"x1":1.2093,"x2":0.6387},{"x1":1.2882,"x2":0.5901},{"x1":1.3276,"x2":0.5415},{"x1":1.2684,"x2":0.5415},{"x1":1.2290,"x2":0.5496},{"x1":1.3671,"x2":0.5415},{"x1":1.4065,"x2":0.5496},{"x1":1.4460,"x2":0.5415},{"x1":1.1402,"x2":0.5415},{"x1":1.1797,"x2":0.5334},{"x1":1.3079,"x2":0.5334},{"x1":1.2487,"x2":0.6549},{"x1":1.2093,"x2":0.7036},{"x1":1.1698,"x2":0.7684},{"x1":1.1304,"x2":0.8332},{"x1":1.1205,"x2":0.8818},{"x1":1.1994,"x2":0.8818},{"x1":1.2290,"x2":0.8413},{"x1":1.2783,"x2":0.7846},{"x1":1.3178,"x2":0.7036},{"x1":1.1698,"x2":0.5577},
{"x1":1.1205,"x2":0.9467},{"x1":1.1402,"x2":0.9143},{"x1":1.1649,"x2":0.8656},{"x1":1.1895,"x2":0.8332},{"x1":1.2191,"x2":0.8170},{"x1":1.2389,"x2":0.7684},{"x1":1.2684,"x2":0.7846},{"x1":1.2980,"x2":0.7198},{"x1":1.3276,"x2":0.7036},{"x1":1.3671,"x2":0.6549},{"x1":1.3966,"x2":0.6387},{"x1":1.4262,"x2":0.5739},{"x1":1.4558,"x2":0.5415},{"x1":1.4755,"x2":0.5253},{"x1":1.3473,"x2":0.5901},{"x1":1.2783,"x2":0.6225},{"x1":1.2487,"x2":0.5739},{"x1":1.2093,"x2":0.5901},{"x1":1.1698,"x2":0.6225},{"x1":1.1402,"x2":0.6711},{"x1":1.1402,"x2":0.6063},{"x1":1.1895,"x2":0.7036},{"x1":1.2290,"x2":0.6711},{"x1":1.2684,"x2":0.6711},{"x1":1.3079,"x2":0.6387},{"x1":1.2882,"x2":0.5334},{"x1":1.3473,"x2":0.5334},{"x1":1.3868,"x2":0.5415},{"x1":1.1600,"x2":0.8170},{"x1":1.1254,"x2":0.8170},{"x1":1.1254,"x2":0.6387},{"x1":1.1600,"x2":0.5415},
{"x1":0.8493,"x2":1.0277},{"x1":0.8542,"x2":0.9791},{"x1":0.8641,"x2":0.9143},{"x1":0.8740,"x2":0.8656},{"x1":0.8789,"x2":0.9467},{"x1":0.9036,"x2":0.8332},{"x1":0.9331,"x2":0.7846},{"x1":0.9726,"x2":0.7522},{"x1":1.0219,"x2":0.7117},{"x1":1.0712,"x2":0.6793},{"x1":0.8937,"x2":0.9953},{"x1":0.9085,"x2":0.9305},{"x1":0.9233,"x2":0.8818},{"x1":0.9627,"x2":0.8170},{"x1":1.0022,"x2":0.7684},{"x1":1.0515,"x2":0.7360},{"x1":1.0811,"x2":0.6387},{"x1":1.0219,"x2":0.6549},{"x1":0.9726,"x2":0.6793},{"x1":0.9233,"x2":0.7198}
]
},
"layer": [
{
 "layer": [
  {"data": {"name": "p096"}, "mark": {"type": "circle", "size": 6, "color": "#1414ff", "opacity": 1},
   "encoding": {
    "x": {"field": "x1", "type": "quantitative", "scale": {"domain": [0.98, 1.025], "range": [89, 324], "zero": false, "nice": false}, "axis": {"orient": "bottom", "offset": -635, "values": [0.98, 0.985, 0.99, 0.995, 1, 1.005, 1.01, 1.015, 1.02, 1.025], "format": "~g", "title": "x₁"}},
    "y": {"field": "x2", "type": "quantitative", "scale": {"domain": [0.975, 1.025], "range": [205, 20], "zero": false, "nice": false}, "axis": {"orient": "left", "offset": -89, "values": [0.975, 0.98, 0.985, 0.99, 0.995, 1, 1.005, 1.01, 1.015, 1.02, 1.025], "format": "~g", "title": "x₂"}}
   }},
  {"data": {"name": "p096"}, "mark": {"type": "circle", "opacity": 0},
   "encoding": {
    "x": {"field": "x1", "type": "quantitative", "scale": {"domain": [0.98, 1.025], "range": [89, 324], "zero": false, "nice": false}, "axis": {"orient": "top", "offset": -20, "values": [0.98, 0.985, 0.99, 0.995, 1, 1.005, 1.01, 1.015, 1.02, 1.025], "labels": false, "title": null}},
    "y": {"field": "x2", "type": "quantitative", "scale": {"domain": [0.975, 1.025], "range": [205, 20], "zero": false, "nice": false}, "axis": {"orient": "right", "offset": -636, "values": [0.975, 0.98, 0.985, 0.99, 0.995, 1, 1.005, 1.01, 1.015, 1.02, 1.025], "labels": false, "title": null}}
   }},
  {"data": {"name": "p096"}, "mark": {"type": "circle", "opacity": 0},
   "encoding": {
    "x": {"field": "x1", "type": "quantitative", "scale": {"domain": [0.98, 1.025], "range": [89, 324], "zero": false, "nice": false}, "axis": {"orient": "bottom", "offset": -635, "domainColor": "transparent", "ticks": false, "labels": false, "title": "δ = 0.96", "titleFont": "Liberation Serif", "titleFontSize": 18, "titlePadding": 53, "titleBaseline": "alphabetic"}}
   }}
 ],
 "resolve": {"axis": {"x": "independent", "y": "independent"}}
},
{
 "layer": [
  {"data": {"name": "core100"}, "mark": {"type": "line", "color": "#1414ff", "strokeWidth": 26, "interpolate": "cardinal-closed", "strokeJoin": "round"},
   "encoding": {
    "x": {"field": "x1", "type": "quantitative", "scale": {"domain": [0.96, 1.05], "range": [382, 617], "zero": false, "nice": false}, "axis": null},
    "y": {"field": "x2", "type": "quantitative", "scale": {"domain": [0.95, 1.04], "range": [205, 20], "zero": false, "nice": false}, "axis": null},
    "order": {"value": null}
   }},
  {"data": {"name": "arms100"}, "mark": {"type": "line", "color": "#1414ff", "strokeWidth": 2, "strokeDash": [0.2, 3.4], "strokeCap": "round", "interpolate": "catmull-rom"},
   "encoding": {
    "x": {"field": "x1", "type": "quantitative", "scale": {"domain": [0.96, 1.05], "range": [382, 617], "zero": false, "nice": false}, "axis": null},
    "y": {"field": "x2", "type": "quantitative", "scale": {"domain": [0.95, 1.04], "range": [205, 20], "zero": false, "nice": false}, "axis": null},
    "detail": {"field": "arm", "type": "nominal"},
    "order": {"value": null}
   }},
  {"data": {"name": "arms100"}, "mark": {"type": "circle", "size": 6, "color": "#1414ff", "opacity": 1},
   "encoding": {
    "x": {"field": "x1", "type": "quantitative", "scale": {"domain": [0.96, 1.05], "range": [382, 617], "zero": false, "nice": false}, "axis": {"orient": "bottom", "offset": -635, "values": [0.96, 0.97, 0.98, 0.99, 1, 1.01, 1.02, 1.03, 1.04, 1.05], "format": "~g", "title": "x₁"}},
    "y": {"field": "x2", "type": "quantitative", "scale": {"domain": [0.95, 1.04], "range": [205, 20], "zero": false, "nice": false}, "axis": {"orient": "left", "offset": -382, "values": [0.95, 0.96, 0.97, 0.98, 0.99, 1, 1.01, 1.02, 1.03, 1.04], "format": "~g", "title": "x₂"}}
   }},
  {"data": {"name": "arms100"}, "mark": {"type": "circle", "opacity": 0},
   "encoding": {
    "x": {"field": "x1", "type": "quantitative", "scale": {"domain": [0.96, 1.05], "range": [382, 617], "zero": false, "nice": false}, "axis": {"orient": "top", "offset": -20, "values": [0.96, 0.97, 0.98, 0.99, 1, 1.01, 1.02, 1.03, 1.04, 1.05], "labels": false, "title": null}},
    "y": {"field": "x2", "type": "quantitative", "scale": {"domain": [0.95, 1.04], "range": [205, 20], "zero": false, "nice": false}, "axis": {"orient": "right", "offset": -343, "values": [0.95, 0.96, 0.97, 0.98, 0.99, 1, 1.01, 1.02, 1.03, 1.04], "labels": false, "title": null}}
   }},
  {"data": {"name": "arms100"}, "mark": {"type": "circle", "opacity": 0},
   "encoding": {
    "x": {"field": "x1", "type": "quantitative", "scale": {"domain": [0.96, 1.05], "range": [382, 617], "zero": false, "nice": false}, "axis": {"orient": "bottom", "offset": -635, "domainColor": "transparent", "ticks": false, "labels": false, "title": "δ = 1", "titleFont": "Liberation Serif", "titleFontSize": 18, "titlePadding": 53, "titleBaseline": "alphabetic"}}
   }}
 ],
 "resolve": {"axis": {"x": "independent", "y": "independent"}}
},
{
 "layer": [
  {"data": {"name": "cycle101"}, "mark": {"type": "line", "color": "#1414ff", "strokeWidth": 3, "interpolate": "cardinal-closed", "strokeJoin": "round"},
   "encoding": {
    "x": {"field": "x1", "type": "quantitative", "scale": {"domain": [0.95, 1.05], "range": [675, 910], "zero": false, "nice": false}, "axis": null},
    "y": {"field": "x2", "type": "quantitative", "scale": {"domain": [0.94, 1.06], "range": [205, 20], "zero": false, "nice": false}, "axis": null},
    "order": {"value": null}
   }},
  {"data": {"name": "halo101"}, "mark": {"type": "circle", "size": 6, "color": "#1414ff", "opacity": 1},
   "encoding": {
    "x": {"field": "x1", "type": "quantitative", "scale": {"domain": [0.95, 1.05], "range": [675, 910], "zero": false, "nice": false}, "axis": {"orient": "bottom", "offset": -635, "values": [0.95, 1, 1.05], "format": "~g", "title": "x₁"}},
    "y": {"field": "x2", "type": "quantitative", "scale": {"domain": [0.94, 1.06], "range": [205, 20], "zero": false, "nice": false}, "axis": {"orient": "left", "offset": -675, "values": [0.94, 0.96, 0.98, 1, 1.02, 1.04, 1.06], "format": "~g", "title": "x₂"}}
   }},
  {"data": {"name": "halo101"}, "mark": {"type": "circle", "opacity": 0},
   "encoding": {
    "x": {"field": "x1", "type": "quantitative", "scale": {"domain": [0.95, 1.05], "range": [675, 910], "zero": false, "nice": false}, "axis": {"orient": "top", "offset": -20, "values": [0.95, 1, 1.05], "labels": false, "title": null}},
    "y": {"field": "x2", "type": "quantitative", "scale": {"domain": [0.94, 1.06], "range": [205, 20], "zero": false, "nice": false}, "axis": {"orient": "right", "offset": -50, "values": [0.94, 0.96, 0.98, 1, 1.02, 1.04, 1.06], "labels": false, "title": null}}
   }},
  {"data": {"name": "halo101"}, "mark": {"type": "circle", "opacity": 0},
   "encoding": {
    "x": {"field": "x1", "type": "quantitative", "scale": {"domain": [0.95, 1.05], "range": [675, 910], "zero": false, "nice": false}, "axis": {"orient": "bottom", "offset": -635, "domainColor": "transparent", "ticks": false, "labels": false, "title": "δ = 1.01", "titleFont": "Liberation Serif", "titleFontSize": 18, "titlePadding": 53, "titleBaseline": "alphabetic"}}
   }}
 ],
 "resolve": {"axis": {"x": "independent", "y": "independent"}}
},
{
 "layer": [
  {"data": {"name": "p1288"}, "mark": {"type": "circle", "size": 8, "color": "#1414ff", "opacity": 1},
   "encoding": {
    "x": {"field": "x1", "type": "quantitative", "scale": {"domain": [0.85, 1.25], "range": [89, 324], "zero": false, "nice": false}, "axis": {"orient": "bottom", "offset": -379, "values": [0.85, 0.9, 0.95, 1, 1.05, 1.1, 1.15, 1.2, 1.25], "format": "~g", "title": "x₁"}},
    "y": {"field": "x2", "type": "quantitative", "scale": {"domain": [0.7, 1.2], "range": [461, 276], "zero": false, "nice": false}, "axis": {"orient": "left", "offset": -89, "values": [0.7, 0.75, 0.8, 0.85, 0.9, 0.95, 1, 1.05, 1.1, 1.15, 1.2], "format": "~g", "title": "x₂"}}
   }},
  {"data": {"name": "p1288"}, "mark": {"type": "circle", "opacity": 0},
   "encoding": {
    "x": {"field": "x1", "type": "quantitative", "scale": {"domain": [0.85, 1.25], "range": [89, 324], "zero": false, "nice": false}, "axis": {"orient": "top", "offset": -276, "values": [0.85, 0.9, 0.95, 1, 1.05, 1.1, 1.15, 1.2, 1.25], "labels": false, "title": null}},
    "y": {"field": "x2", "type": "quantitative", "scale": {"domain": [0.7, 1.2], "range": [461, 276], "zero": false, "nice": false}, "axis": {"orient": "right", "offset": -636, "values": [0.7, 0.75, 0.8, 0.85, 0.9, 0.95, 1, 1.05, 1.1, 1.15, 1.2], "labels": false, "title": null}}
   }},
  {"data": {"name": "p1288"}, "mark": {"type": "circle", "opacity": 0},
   "encoding": {
    "x": {"field": "x1", "type": "quantitative", "scale": {"domain": [0.85, 1.25], "range": [89, 324], "zero": false, "nice": false}, "axis": {"orient": "bottom", "offset": -379, "domainColor": "transparent", "ticks": false, "labels": false, "title": "δ = 1.288", "titleFont": "Liberation Serif", "titleFontSize": 18, "titlePadding": 53, "titleBaseline": "alphabetic"}}
   }}
 ],
 "resolve": {"axis": {"x": "independent", "y": "independent"}}
},
{
 "layer": [
  {"data": {"name": "p1492"}, "mark": {"type": "circle", "size": 8, "color": "#1414ff", "opacity": 1},
   "encoding": {
    "x": {"field": "x1", "type": "quantitative", "scale": {"domain": [0.8, 1.5], "range": [382, 617], "zero": false, "nice": false}, "axis": {"orient": "bottom", "offset": -379, "values": [0.8, 0.9, 1, 1.1, 1.2, 1.3, 1.4, 1.5], "format": "~g", "title": "x₁"}},
    "y": {"field": "x2", "type": "quantitative", "scale": {"domain": [0.6, 1.3], "range": [461, 276], "zero": false, "nice": false}, "axis": {"orient": "left", "offset": -382, "values": [0.7, 0.8, 0.9, 1, 1.1, 1.2, 1.3], "format": "~g", "title": "x₂"}}
   }},
  {"data": {"name": "p1492"}, "mark": {"type": "circle", "opacity": 0},
   "encoding": {
    "x": {"field": "x1", "type": "quantitative", "scale": {"domain": [0.8, 1.5], "range": [382, 617], "zero": false, "nice": false}, "axis": {"orient": "top", "offset": -276, "values": [0.8, 0.9, 1, 1.1, 1.2, 1.3, 1.4, 1.5], "labels": false, "title": null}},
    "y": {"field": "x2", "type": "quantitative", "scale": {"domain": [0.6, 1.3], "range": [461, 276], "zero": false, "nice": false}, "axis": {"orient": "right", "offset": -343, "values": [0.7, 0.8, 0.9, 1, 1.1, 1.2, 1.3], "labels": false, "title": null}}
   }},
  {"data": {"name": "p1492"}, "mark": {"type": "circle", "opacity": 0},
   "encoding": {
    "x": {"field": "x1", "type": "quantitative", "scale": {"domain": [0.8, 1.5], "range": [382, 617], "zero": false, "nice": false}, "axis": {"orient": "bottom", "offset": -379, "domainColor": "transparent", "ticks": false, "labels": false, "title": "δ = 1.492", "titleFont": "Liberation Serif", "titleFontSize": 18, "titlePadding": 53, "titleBaseline": "alphabetic"}}
   }}
 ],
 "resolve": {"axis": {"x": "independent", "y": "independent"}}
},
{
 "layer": [
  {"data": {"name": "p1569"}, "mark": {"type": "circle", "size": 8, "color": "#1414ff", "opacity": 1},
   "encoding": {
    "x": {"field": "x1", "type": "quantitative", "scale": {"domain": [0.8, 1.5], "range": [675, 910], "zero": false, "nice": false}, "axis": {"orient": "bottom", "offset": -379, "values": [0.8, 0.9, 1, 1.1, 1.2, 1.3, 1.4, 1.5], "format": "~g", "title": "x₁"}},
    "y": {"field": "x2", "type": "quantitative", "scale": {"domain": [0.5, 1.3], "range": [461, 276], "zero": false, "nice": false}, "axis": {"orient": "left", "offset": -675, "values": [0.5, 0.6, 0.7, 0.8, 0.9, 1, 1.1, 1.2, 1.3], "format": "~g", "title": "x₂"}}
   }},
  {"data": {"name": "p1569"}, "mark": {"type": "circle", "opacity": 0},
   "encoding": {
    "x": {"field": "x1", "type": "quantitative", "scale": {"domain": [0.8, 1.5], "range": [675, 910], "zero": false, "nice": false}, "axis": {"orient": "top", "offset": -276, "values": [0.8, 0.9, 1, 1.1, 1.2, 1.3, 1.4, 1.5], "labels": false, "title": null}},
    "y": {"field": "x2", "type": "quantitative", "scale": {"domain": [0.5, 1.3], "range": [461, 276], "zero": false, "nice": false}, "axis": {"orient": "right", "offset": -50, "values": [0.5, 0.6, 0.7, 0.8, 0.9, 1, 1.1, 1.2, 1.3], "labels": false, "title": null}}
   }},
  {"data": {"name": "p1569"}, "mark": {"type": "circle", "opacity": 0},
   "encoding": {
    "x": {"field": "x1", "type": "quantitative", "scale": {"domain": [0.8, 1.5], "range": [675, 910], "zero": false, "nice": false}, "axis": {"orient": "bottom", "offset": -379, "domainColor": "transparent", "ticks": false, "labels": false, "title": "δ = 1.569", "titleFont": "Liberation Serif", "titleFontSize": 18, "titlePadding": 53, "titleBaseline": "alphabetic"}}
   }}
 ],
 "resolve": {"axis": {"x": "independent", "y": "independent"}}
},
{
 "layer": [
  {"data": {"name": "p161"}, "mark": {"type": "circle", "size": 8, "color": "#1414ff", "opacity": 1},
   "encoding": {
    "x": {"field": "x1", "type": "quantitative", "scale": {"domain": [0.8, 1.5], "range": [89, 324], "zero": false, "nice": false}, "axis": {"orient": "bottom", "offset": -124, "values": [0.8, 0.9, 1, 1.1, 1.2, 1.3, 1.4, 1.5], "format": "~g", "title": "x₁"}},
    "y": {"field": "x2", "type": "quantitative", "scale": {"domain": [0.5, 1.3], "range": [716, 531], "zero": false, "nice": false}, "axis": {"orient": "left", "offset": -89, "values": [0.5, 0.6, 0.7, 0.8, 0.9, 1, 1.1, 1.2, 1.3], "format": "~g", "title": "x₂"}}
   }},
  {"data": {"name": "p161"}, "mark": {"type": "circle", "opacity": 0},
   "encoding": {
    "x": {"field": "x1", "type": "quantitative", "scale": {"domain": [0.8, 1.5], "range": [89, 324], "zero": false, "nice": false}, "axis": {"orient": "top", "offset": -531, "values": [0.8, 0.9, 1, 1.1, 1.2, 1.3, 1.4, 1.5], "labels": false, "title": null}},
    "y": {"field": "x2", "type": "quantitative", "scale": {"domain": [0.5, 1.3], "range": [716, 531], "zero": false, "nice": false}, "axis": {"orient": "right", "offset": -636, "values": [0.5, 0.6, 0.7, 0.8, 0.9, 1, 1.1, 1.2, 1.3], "labels": false, "title": null}}
   }},
  {"data": {"name": "p161"}, "mark": {"type": "circle", "opacity": 0},
   "encoding": {
    "x": {"field": "x1", "type": "quantitative", "scale": {"domain": [0.8, 1.5], "range": [89, 324], "zero": false, "nice": false}, "axis": {"orient": "bottom", "offset": -124, "domainColor": "transparent", "ticks": false, "labels": false, "title": "δ = 1.61", "titleFont": "Liberation Serif", "titleFontSize": 18, "titlePadding": 53, "titleBaseline": "alphabetic"}}
   }}
 ],
 "resolve": {"axis": {"x": "independent", "y": "independent"}}
},
{
 "layer": [
  {"data": {"name": "loop162"}, "mark": {"type": "line", "color": "#1414ff", "strokeWidth": 3.6, "interpolate": "catmull-rom", "strokeJoin": "round", "opacity": 0.95},
   "encoding": {
    "x": {"field": "x1", "type": "quantitative", "scale": {"domain": [0.8, 1.5], "range": [382, 617], "zero": false, "nice": false}, "axis": null},
    "y": {"field": "x2", "type": "quantitative", "scale": {"domain": [0.5, 1.3], "range": [716, 531], "zero": false, "nice": false}, "axis": null},
    "detail": {"field": "part", "type": "nominal"},
    "order": {"value": null}
   }},
  {"data": {"name": "bands162"}, "mark": {"type": "line", "color": "#1414ff", "strokeWidth": 2.2, "interpolate": "catmull-rom", "strokeJoin": "round", "opacity": 0.9},
   "encoding": {
    "x": {"field": "x1", "type": "quantitative", "scale": {"domain": [0.8, 1.5], "range": [382, 617], "zero": false, "nice": false}, "axis": null},
    "y": {"field": "x2", "type": "quantitative", "scale": {"domain": [0.5, 1.3], "range": [716, 531], "zero": false, "nice": false}, "axis": null},
    "detail": {"field": "part", "type": "nominal"},
    "order": {"value": null}
   }},
  {"data": {"name": "thin162"}, "mark": {"type": "line", "color": "#1414ff", "strokeWidth": 1.6, "strokeDash": [0.2, 2.6], "strokeCap": "round"},
   "encoding": {
    "x": {"field": "x1", "type": "quantitative", "scale": {"domain": [0.8, 1.5], "range": [382, 617], "zero": false, "nice": false}, "axis": null},
    "y": {"field": "x2", "type": "quantitative", "scale": {"domain": [0.5, 1.3], "range": [716, 531], "zero": false, "nice": false}, "axis": null},
    "order": {"value": null}
   }},
  {"data": {"name": "scat162"}, "mark": {"type": "circle", "size": 5, "color": "#1414ff", "opacity": 1},
   "encoding": {
    "x": {"field": "x1", "type": "quantitative", "scale": {"domain": [0.8, 1.5], "range": [382, 617], "zero": false, "nice": false}, "axis": {"orient": "bottom", "offset": -124, "values": [0.8, 0.9, 1, 1.1, 1.2, 1.3, 1.4, 1.5], "format": "~g", "title": "x₁"}},
    "y": {"field": "x2", "type": "quantitative", "scale": {"domain": [0.5, 1.3], "range": [716, 531], "zero": false, "nice": false}, "axis": {"orient": "left", "offset": -382, "values": [0.5, 0.6, 0.7, 0.8, 0.9, 1, 1.1, 1.2, 1.3], "format": "~g", "title": "x₂"}}
   }},
  {"data": {"name": "scat162"}, "mark": {"type": "circle", "opacity": 0},
   "encoding": {
    "x": {"field": "x1", "type": "quantitative", "scale": {"domain": [0.8, 1.5], "range": [382, 617], "zero": false, "nice": false}, "axis": {"orient": "top", "offset": -531, "values": [0.8, 0.9, 1, 1.1, 1.2, 1.3, 1.4, 1.5], "labels": false, "title": null}},
    "y": {"field": "x2", "type": "quantitative", "scale": {"domain": [0.5, 1.3], "range": [716, 531], "zero": false, "nice": false}, "axis": {"orient": "right", "offset": -343, "values": [0.5, 0.6, 0.7, 0.8, 0.9, 1, 1.1, 1.2, 1.3], "labels": false, "title": null}}
   }},
  {"data": {"name": "scat162"}, "mark": {"type": "circle", "opacity": 0},
   "encoding": {
    "x": {"field": "x1", "type": "quantitative", "scale": {"domain": [0.8, 1.5], "range": [382, 617], "zero": false, "nice": false}, "axis": {"orient": "bottom", "offset": -124, "domainColor": "transparent", "ticks": false, "labels": false, "title": "δ = 1.62", "titleFont": "Liberation Serif", "titleFontSize": 18, "titlePadding": 53, "titleBaseline": "alphabetic"}}
   }}
 ],
 "resolve": {"axis": {"x": "independent", "y": "independent"}}
},
{
 "layer": [
  {"data": {"name": "loop165"}, "mark": {"type": "line", "color": "#1414ff", "strokeWidth": 3.6, "interpolate": "catmull-rom", "strokeJoin": "round", "opacity": 0.95},
   "encoding": {
    "x": {"field": "x1", "type": "quantitative", "scale": {"domain": [0.8, 1.5], "range": [675, 910], "zero": false, "nice": false}, "axis": null},
    "y": {"field": "x2", "type": "quantitative", "scale": {"domain": [0.4, 1.3], "range": [716, 531], "zero": false, "nice": false}, "axis": null},
    "detail": {"field": "part", "type": "nominal"},
    "order": {"value": null}
   }},
  {"data": {"name": "bands165"}, "mark": {"type": "line", "color": "#1414ff", "strokeWidth": 2.2, "interpolate": "catmull-rom", "strokeJoin": "round", "opacity": 0.9},
   "encoding": {
    "x": {"field": "x1", "type": "quantitative", "scale": {"domain": [0.8, 1.5], "range": [675, 910], "zero": false, "nice": false}, "axis": null},
    "y": {"field": "x2", "type": "quantitative", "scale": {"domain": [0.4, 1.3], "range": [716, 531], "zero": false, "nice": false}, "axis": null},
    "detail": {"field": "part", "type": "nominal"},
    "order": {"value": null}
   }},
  {"data": {"name": "thin165"}, "mark": {"type": "line", "color": "#1414ff", "strokeWidth": 1.6, "strokeDash": [0.2, 2.6], "strokeCap": "round"},
   "encoding": {
    "x": {"field": "x1", "type": "quantitative", "scale": {"domain": [0.8, 1.5], "range": [675, 910], "zero": false, "nice": false}, "axis": null},
    "y": {"field": "x2", "type": "quantitative", "scale": {"domain": [0.4, 1.3], "range": [716, 531], "zero": false, "nice": false}, "axis": null},
    "order": {"value": null}
   }},
  {"data": {"name": "scat165"}, "mark": {"type": "circle", "size": 5, "color": "#1414ff", "opacity": 1},
   "encoding": {
    "x": {"field": "x1", "type": "quantitative", "scale": {"domain": [0.8, 1.5], "range": [675, 910], "zero": false, "nice": false}, "axis": {"orient": "bottom", "offset": -124, "values": [0.8, 0.9, 1, 1.1, 1.2, 1.3, 1.4, 1.5], "format": "~g", "title": "x₁"}},
    "y": {"field": "x2", "type": "quantitative", "scale": {"domain": [0.4, 1.3], "range": [716, 531], "zero": false, "nice": false}, "axis": {"orient": "left", "offset": -675, "values": [0.4, 0.5, 0.6, 0.7, 0.8, 0.9, 1, 1.1, 1.2, 1.3], "format": "~g", "title": "x₂"}}
   }},
  {"data": {"name": "scat165"}, "mark": {"type": "circle", "opacity": 0},
   "encoding": {
    "x": {"field": "x1", "type": "quantitative", "scale": {"domain": [0.8, 1.5], "range": [675, 910], "zero": false, "nice": false}, "axis": {"orient": "top", "offset": -531, "values": [0.8, 0.9, 1, 1.1, 1.2, 1.3, 1.4, 1.5], "labels": false, "title": null}},
    "y": {"field": "x2", "type": "quantitative", "scale": {"domain": [0.4, 1.3], "range": [716, 531], "zero": false, "nice": false}, "axis": {"orient": "right", "offset": -50, "values": [0.4, 0.5, 0.6, 0.7, 0.8, 0.9, 1, 1.1, 1.2, 1.3], "labels": false, "title": null}}
   }},
  {"data": {"name": "scat165"}, "mark": {"type": "circle", "opacity": 0},
   "encoding": {
    "x": {"field": "x1", "type": "quantitative", "scale": {"domain": [0.8, 1.5], "range": [675, 910], "zero": false, "nice": false}, "axis": {"orient": "bottom", "offset": -124, "domainColor": "transparent", "ticks": false, "labels": false, "title": "δ = 1.65", "titleFont": "Liberation Serif", "titleFontSize": 18, "titlePadding": 53, "titleBaseline": "alphabetic"}}
   }}
 ],
 "resolve": {"axis": {"x": "independent", "y": "independent"}}
}
],
"resolve": {"scale": {"x": "independent", "y": "independent"}}
}
